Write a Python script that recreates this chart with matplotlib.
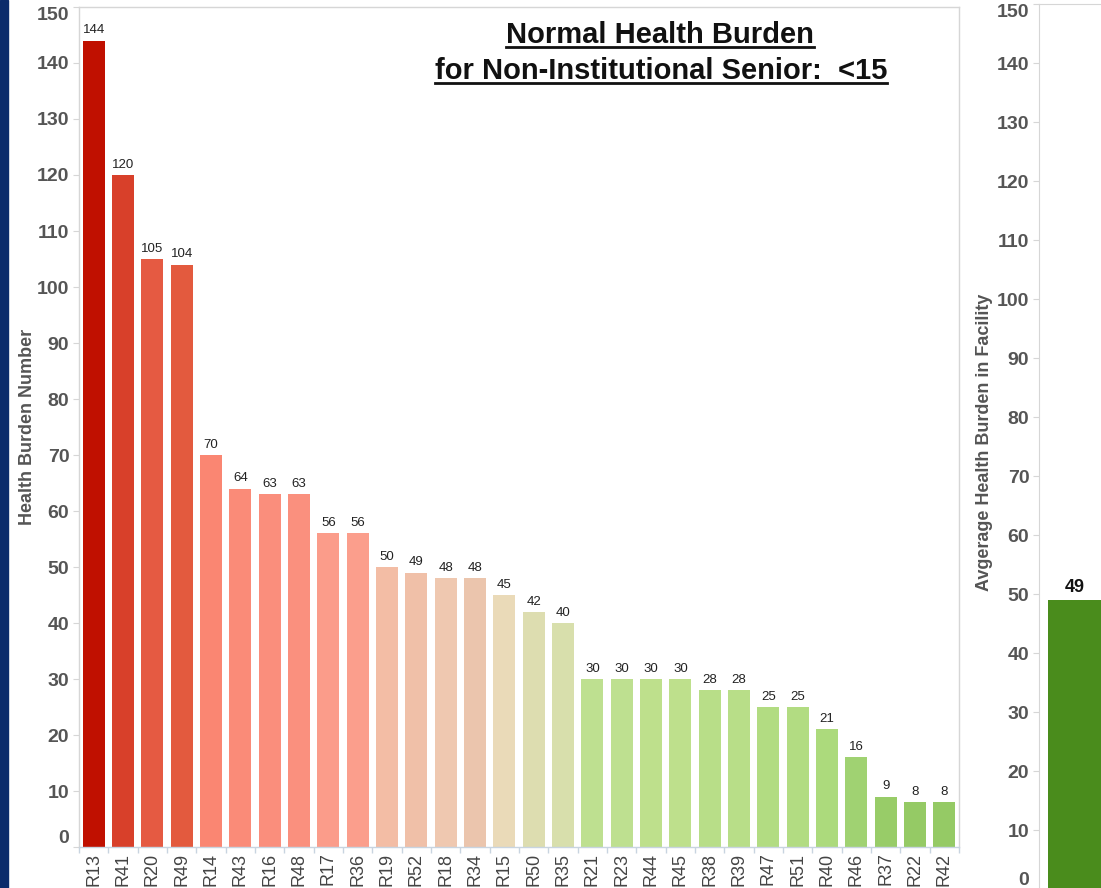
import matplotlib
matplotlib.use("Agg")
import matplotlib.pyplot as plt
from matplotlib.patches import Rectangle
from matplotlib.lines import Line2D

plt.rcParams['font.family'] = ['Liberation Sans', 'DejaVu Sans']

regions = ["R13", "R41", "R20", "R49", "R14", "R43", "R16", "R48", "R17", "R36",
           "R19", "R52", "R18", "R34", "R15", "R50", "R35", "R21", "R23", "R44",
           "R45", "R38", "R39", "R47", "R51", "R40", "R46", "R37", "R22", "R42"]
burden = [144, 120, 105, 104, 70, 64, 63, 63, 56, 56,
          50, 49, 48, 48, 45, 42, 40, 30, 30, 30,
          30, 28, 28, 25, 25, 21, 16, 9, 8, 8]
bar_colors = ["#C01000", "#D8402A", "#E55A42", "#E35A3E", "#FA8672", "#FA8B78",
              "#FA8E7C", "#FA907E", "#FB9C8A", "#FB9E8C", "#F3BDA5", "#F0C0A8",
              "#EFC8B0", "#EBC5AD", "#EADAB8", "#DDDDB0", "#D8DFAC", "#BEE090",
              "#BEE090", "#BEE08C", "#BEE08C", "#B8DE88", "#B8DE88", "#B2DC82",
              "#B2DC82", "#ACDA7C", "#A0D272", "#98CC68", "#95CA65", "#95CA65"]
avg_burden = [49]
y_ticks = list(range(0, 151, 10))

title_lines = ["Normal Health Burden", "for Non-Institutional Senior:  <15"]

W, H = 1101, 888
fig = plt.figure(figsize=(W / 100, H / 100), dpi=100)
fig.patch.set_facecolor("white")

# navy strip on the left
fig.add_artist(Rectangle((0, 0), 8 / W, 1, transform=fig.transFigure,
                         color="#0B2B6B", zorder=0))

spine_c = "#D6D6D6"
tick_c = "#555555"

# ---- main axes
ax = fig.add_axes([79 / W, 1 - 847 / H, 880 / W, 840 / H])
x = list(range(len(regions)))
ax.bar(x, burden, width=0.75, color=bar_colors, zorder=2)
ax.set_xlim(-0.5, len(regions) - 0.5)
ax.set_ylim(0, 150)
ax.set_yticks(y_ticks)
ax.set_yticklabels([str(t) for t in y_ticks], fontsize=14, fontweight="bold", color=tick_c)
ax.set_xticks(x)
ax.set_xticklabels(regions, rotation=90, fontsize=13, color="#444444")
ax.set_xticks([i - 0.5 for i in range(len(regions) + 1)], minor=True)
ax.tick_params(axis="x", which="major", length=0, pad=4)
ax.tick_params(axis="x", which="minor", length=4, color="#C8D4E0", width=1)
ax.tick_params(axis="y", length=4, color=spine_c, pad=3)
for s in ax.spines.values():
    s.set_color(spine_c)
    s.set_linewidth(1)
ax.spines["bottom"].set_color("#C8D4E0")
ylabs = ax.get_yticklabels()
ylabs[0].set_va("bottom")
ylabs[-1].set_va("top")
ax.set_ylabel("Health Burden Number", fontsize=13, fontweight="bold", color="#555555")
ax.yaxis.set_label_coords(-43 / 880, 0.5)
for xi, v in zip(x, burden):
    ax.annotate(str(v), (xi, v), xytext=(0, 3), textcoords="offset points",
                ha="center", va="bottom", fontsize=9.5, color="#222222")

# ---- right axes (cut off)
ax2 = fig.add_axes([1039 / W, 1 - 889 / H, 220 / W, 885 / H])
ax2.bar([0], avg_burden, width=0.8, color="#4A8C1C", zorder=2)
ax2.set_xlim(-0.533, -0.533 + 220 / 67.5)
ax2.set_ylim(0, 150)
ax2.set_yticks(y_ticks)
ax2.set_yticklabels([str(t) for t in y_ticks], fontsize=14, fontweight="bold", color=tick_c)
ax2.set_xticks([])
ax2.tick_params(axis="y", length=4, color=spine_c, pad=3)
for s in ax2.spines.values():
    s.set_color(spine_c)
ax2.spines["bottom"].set_visible(False)
ax2.spines["right"].set_visible(False)
y2labs = ax2.get_yticklabels()
y2labs[0].set_va("bottom")
y2labs[-1].set_va("top")
ax2.set_ylabel("Avgerage Health Burden in Facility", fontsize=13, fontweight="bold",
               color="#555555")
ax2.yaxis.set_label_coords(-46 / 220, 0.505)
ax2.annotate(str(avg_burden[0]), (0, avg_burden[0]), xytext=(0, 3), textcoords="offset points",
             ha="center", va="bottom", fontsize=13, fontweight="bold", color="#111111")

# ---- title with underline
t1 = fig.text(660 / W, 1 - 35 / H, title_lines[0], ha="center", va="center",
              fontsize=21, fontweight="bold", color="#111111")
t2 = fig.text(661 / W, 1 - 71 / H, title_lines[1], ha="center", va="center",
              fontsize=21, fontweight="bold", color="#111111")
fig.canvas.draw()
r = fig.canvas.get_renderer()
for t in (t1, t2):
    bb = t.get_window_extent(renderer=r)
    yline = bb.y0 + 1.5
    fig.add_artist(Line2D([bb.x0 / W, bb.x1 / W], [yline / H, yline / H],
                          transform=fig.transFigure, color="#111111", lw=2))

fig.savefig("out.png", dpi=100)
